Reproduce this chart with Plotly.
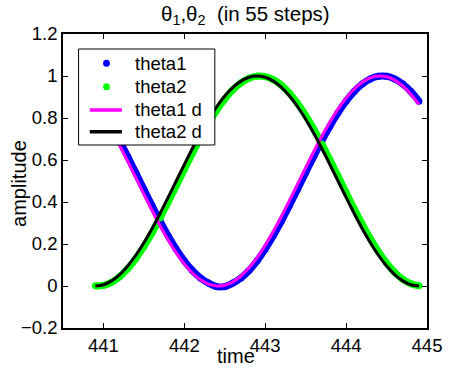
import plotly.graph_objects as go

# ---- data ----
time = [round(440.9 + 0.1 * k, 2) for k in range(41)]

theta1 = [0.8802, 0.8247, 0.7612, 0.6913, 0.6167, 0.5392, 0.4608, 0.3833, 0.3087, 0.2388,
          0.1753, 0.1198, 0.0737, 0.0381, 0.0138, -0.003, -0.003, 0.0138, 0.0381, 0.0737,
          0.1198, 0.1753, 0.2388, 0.3087, 0.3833, 0.4608, 0.5392, 0.6167, 0.6913, 0.7612,
          0.8247, 0.8802, 0.9263, 0.9619, 0.9862, 0.9985, 0.9985, 0.9862, 0.9619, 0.9263,
          0.8802]
theta2 = [0.0006, 0.0030, 0.0177, 0.0443, 0.0821, 0.1302, 0.1874, 0.2523, 0.3233, 0.3986,
          0.4764, 0.5549, 0.6319, 0.7058, 0.7745, 0.8365, 0.8902, 0.9343, 0.9677, 0.9896,
          0.9994, 0.9970, 0.9823, 0.9557, 0.9179, 0.8698, 0.8126, 0.7477, 0.6767, 0.6014,
          0.5236, 0.4451, 0.3681, 0.2942, 0.2255, 0.1635, 0.1098, 0.0657, 0.0323, 0.0104,
          0.0006]
theta1_d = [0.8645, 0.8064, 0.7409, 0.6694, 0.5937, 0.5157, 0.4373, 0.3605, 0.2871, 0.2190,
            0.1578, 0.1049, 0.0618, 0.0295, 0.0089, 0.0002, 0.0039, 0.0198, 0.0476, 0.0865,
            0.1355, 0.1936, 0.2591, 0.3306, 0.4063, 0.4843, 0.5627, 0.6395, 0.7129, 0.7810,
            0.8422, 0.8951, 0.9382, 0.9705, 0.9911, 0.9998, 0.9961, 0.9802, 0.9524, 0.9135,
            0.8645]
theta2_d = [0.0, 0.0062, 0.0245, 0.0545, 0.0955, 0.1464, 0.2061, 0.2730, 0.3455, 0.4218,
            0.5, 0.5782, 0.6545, 0.7270, 0.7939, 0.8536, 0.9045, 0.9455, 0.9755, 0.9938,
            1.0, 0.9938, 0.9755, 0.9455, 0.9045, 0.8536, 0.7939, 0.7270, 0.6545, 0.5782,
            0.5, 0.4218, 0.3455, 0.2730, 0.2061, 0.1464, 0.0955, 0.0545, 0.0245, 0.0062,
            0.0]

series_names = ["theta1", "theta2", "theta1 d", "theta2 d"]
x_ticks = [441, 442, 443, 444, 445]
y_ticks = [-0.2, 0, 0.2, 0.4, 0.6, 0.8, 1.0, 1.2]
y_tick_text = ["\u22120.2", "0", "0.2", "0.4", "0.6", "0.8", "1", "1.2"]

FONT = "Liberation Sans, Arial, sans-serif"
BLUE, GREEN, MAGENTA, BLACK = "#0000ff", "#00ff00", "#ff00ff", "#000000"
TICK_SIZE, LABEL_SIZE, TITLE_SIZE = 18.5, 20, 20.5

# plot-area geometry in pixels
L, R, T, B = 63, 437, 34, 328
W, H = 454, 369


def px(x):
    return (x - L) / (R - L)


def py(y):
    return (B - y) / (B - T)


fig = go.Figure()

# dense dot bands (drawn as thick lines + markers)
for vals, col in [(theta1, BLUE), (theta2, GREEN)]:
    fig.add_trace(go.Scatter(x=time, y=vals, mode="lines", line=dict(color=col, width=7, shape="spline"),
                             showlegend=False, hoverinfo="skip"))
fig.add_trace(go.Scatter(x=time, y=theta1, mode="markers", name=series_names[0],
                         marker=dict(color=BLUE, size=7), showlegend=False))
fig.add_trace(go.Scatter(x=time, y=theta2, mode="markers", name=series_names[1],
                         marker=dict(color=GREEN, size=7), showlegend=False))
fig.add_trace(go.Scatter(x=time, y=theta1_d, mode="lines", name=series_names[2],
                         line=dict(color=MAGENTA, width=3, shape="spline"), showlegend=False))
fig.add_trace(go.Scatter(x=time, y=theta2_d, mode="lines", name=series_names[3],
                         line=dict(color=BLACK, width=3, shape="spline"), showlegend=False))

axis_common = dict(showline=True, linecolor="black", linewidth=1.5, mirror="ticks",
                   ticks="inside", ticklen=5, tickcolor="black", tickwidth=1,
                   showgrid=False, zeroline=False,
                   tickfont=dict(family=FONT, size=TICK_SIZE, color="black"))

fig.update_xaxes(range=[440.5, 445], tickvals=x_ticks, **axis_common)
fig.update_yaxes(range=[-0.2, 1.2], tickvals=y_ticks, ticktext=y_tick_text, **axis_common)

# ---- manual MATLAB-style legend ----
shapes = [dict(type="rect", xref="paper", yref="paper", x0=px(79), x1=px(219), y0=py(145), y1=py(49),
               fillcolor="white", line=dict(color="black", width=1), layer="above")]
rows = [63.3, 86.7, 110, 131.7]
for yc, col in zip(rows[:2], [BLUE, GREEN]):
    shapes.append(dict(type="circle", xref="paper", yref="paper",
                       x0=px(104.2), x1=px(111.2), y0=py(yc + 3.5), y1=py(yc - 3.5),
                       fillcolor=col, line=dict(color=col, width=0), layer="above"))
for yc, col in zip(rows[2:], [MAGENTA, BLACK]):
    shapes.append(dict(type="line", xref="paper", yref="paper",
                       x0=px(90.5), x1=px(123.5), y0=py(yc), y1=py(yc),
                       line=dict(color=col, width=3.5), layer="above"))

annotations = []
for yc, name in zip(rows, series_names):
    annotations.append(dict(text=name, xref="paper", yref="paper", x=px(135), y=py(yc),
                            xanchor="left", yanchor="middle", showarrow=False,
                            font=dict(family=FONT, size=TICK_SIZE, color="black")))

annotations += [
    dict(text="\u03b8<sub>1</sub>,\u03b8<sub>2</sub>  (in 55 steps)", xref="paper", yref="paper",
         x=0.5, y=1.0, yshift=19, xanchor="center", yanchor="middle", showarrow=False,
         font=dict(family=FONT, size=TITLE_SIZE, color="black")),
    dict(text="time", xref="paper", yref="paper", x=0.475, y=0, yshift=-28,
         xanchor="center", yanchor="middle", showarrow=False,
         font=dict(family=FONT, size=LABEL_SIZE, color="black")),
    dict(text="amplitude", xref="paper", yref="paper", x=0, xshift=-44, y=0.49,
         xanchor="center", yanchor="middle", textangle=-90, showarrow=False,
         font=dict(family=FONT, size=LABEL_SIZE, color="black")),
]

fig.update_layout(
    width=W, height=H,
    margin=dict(l=L, r=W - R, t=T, b=H - B),
    paper_bgcolor="white", plot_bgcolor="white",
    font=dict(family=FONT, size=TICK_SIZE, color="black"),
    showlegend=False,
    shapes=shapes,
    annotations=annotations,
)

fig.write_html("out.html")
